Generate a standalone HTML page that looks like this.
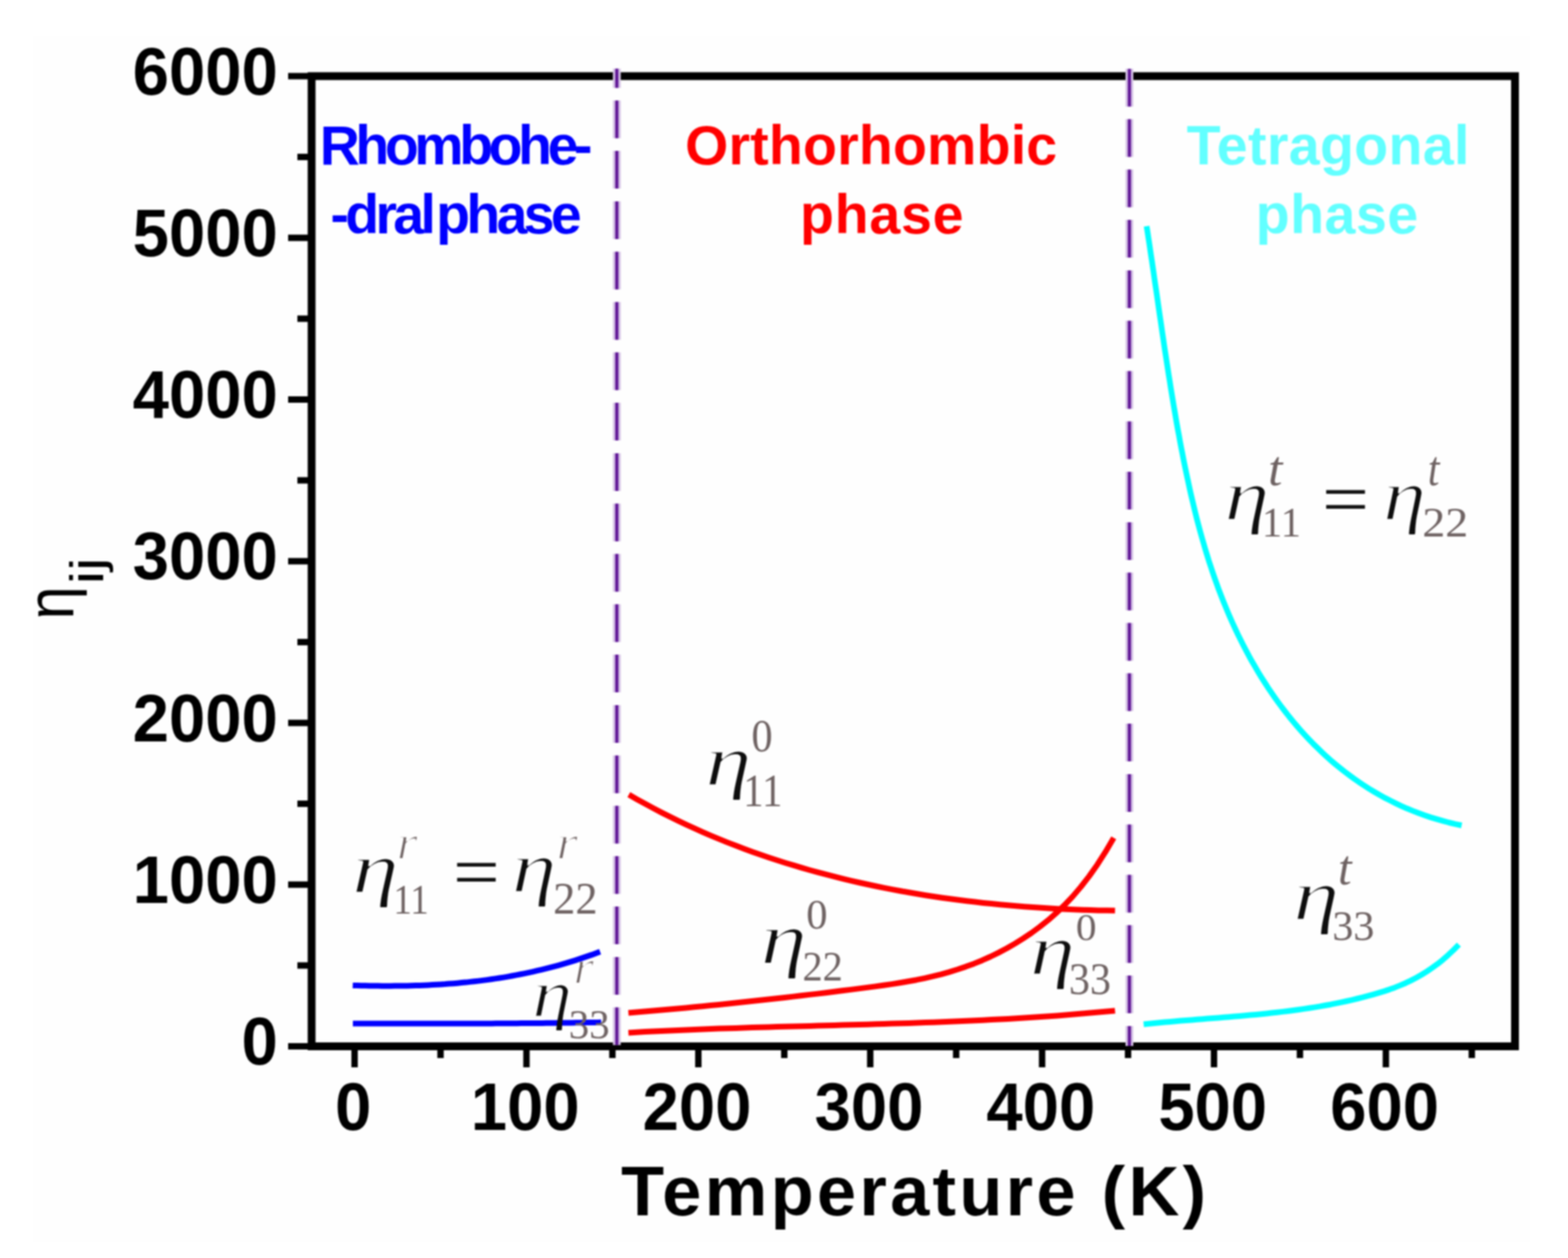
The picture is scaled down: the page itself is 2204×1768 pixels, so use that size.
<!DOCTYPE html><html><head><meta charset="utf-8"><style>html,body{margin:0;padding:0;background:#fff;overflow:hidden;}svg{display:block;filter:blur(1.1px)}</style></head><body>
<svg width="2204" height="1768" viewBox="0 0 2204 1768">
<rect x="0" y="0" width="2204" height="1768" fill="#ffffff"/>
<rect x="47" y="51" width="2103" height="1694" fill="#fefefe"/>
<defs><filter id="er20" x="-20%" y="-20%" width="140%" height="140%"><feMorphology operator="erode" radius="1.00"/></filter></defs>
<path d="M495.8,1384.9 L501.7,1385.1 L507.6,1385.2 L513.5,1385.3 L519.4,1385.5 L525.3,1385.5 L531.2,1385.6 L537.1,1385.7 L542.9,1385.7 L548.8,1385.7 L554.7,1385.6 L560.6,1385.6 L566.5,1385.5 L572.4,1385.4 L578.3,1385.3 L584.2,1385.1 L590.1,1384.9 L596.0,1384.7 L601.9,1384.4 L607.8,1384.1 L613.7,1383.8 L619.6,1383.4 L625.5,1383.1 L631.3,1382.6 L637.2,1382.2 L643.1,1381.7 L649.0,1381.1 L654.9,1380.6 L660.8,1379.9 L666.7,1379.3 L672.6,1378.6 L678.5,1377.9 L684.4,1377.1 L690.3,1376.3 L696.2,1375.4 L702.1,1374.5 L708.0,1373.6 L713.8,1372.6 L719.7,1371.5 L725.6,1370.4 L731.5,1369.3 L737.4,1368.1 L743.3,1366.9 L749.2,1365.6 L755.1,1364.2 L761.0,1362.8 L766.9,1361.4 L772.8,1359.9 L778.7,1358.4 L784.6,1356.8 L790.5,1355.1 L796.4,1353.4 L802.2,1351.6 L808.1,1349.8 L814.0,1347.9 L819.9,1345.9 L825.8,1343.9 L831.7,1341.9 L837.6,1339.7 L843.5,1337.5" fill="none" stroke="#0000ff" stroke-width="8" stroke-linecap="butt" stroke-linejoin="round"/>
<path d="M496.0,1438.6 L501.9,1438.6 L507.8,1438.6 L513.7,1438.6 L519.7,1438.6 L525.6,1438.6 L531.5,1438.6 L537.4,1438.6 L543.3,1438.6 L549.2,1438.6 L555.2,1438.6 L561.1,1438.6 L567.0,1438.6 L572.9,1438.6 L578.8,1438.6 L584.7,1438.6 L590.6,1438.6 L596.6,1438.6 L602.5,1438.6 L608.4,1438.6 L614.3,1438.6 L620.2,1438.6 L626.1,1438.6 L632.1,1438.6 L638.0,1438.6 L643.9,1438.6 L649.8,1438.5 L655.7,1438.5 L661.6,1438.5 L667.5,1438.5 L673.5,1438.5 L679.4,1438.4 L685.3,1438.4 L691.2,1438.4 L697.1,1438.3 L703.0,1438.3 L708.9,1438.3 L714.9,1438.2 L720.8,1438.2 L726.7,1438.2 L732.6,1438.1 L738.5,1438.1 L744.4,1438.0 L750.4,1438.0 L756.3,1437.9 L762.2,1437.9 L768.1,1437.8 L774.0,1437.7 L779.9,1437.7 L785.8,1437.6 L791.8,1437.5 L797.7,1437.5 L803.6,1437.4 L809.5,1437.3 L815.4,1437.2 L821.3,1437.1 L827.3,1437.1 L833.2,1437.0 L839.1,1436.9 L845.0,1436.8" fill="none" stroke="#0000ff" stroke-width="8" stroke-linecap="butt" stroke-linejoin="round"/>
<path d="M883.9,1116.8 L895.5,1123.4 L907.1,1129.8 L918.6,1136.0 L930.2,1142.1 L941.8,1147.9 L953.4,1153.6 L965.0,1159.1 L976.6,1164.4 L988.1,1169.6 L999.7,1174.6 L1011.3,1179.4 L1022.9,1184.1 L1034.5,1188.6 L1046.1,1193.0 L1057.6,1197.2 L1069.2,1201.3 L1080.8,1205.2 L1092.4,1209.0 L1104.0,1212.7 L1115.6,1216.2 L1127.1,1219.7 L1138.7,1223.0 L1150.3,1226.2 L1161.9,1229.2 L1173.5,1232.2 L1185.1,1235.1 L1196.6,1237.8 L1208.2,1240.5 L1219.8,1243.0 L1231.4,1245.5 L1243.0,1247.8 L1254.6,1250.1 L1266.1,1252.2 L1277.7,1254.3 L1289.3,1256.3 L1300.9,1258.2 L1312.5,1260.0 L1324.1,1261.7 L1335.6,1263.3 L1347.2,1264.8 L1358.8,1266.3 L1370.4,1267.6 L1382.0,1268.9 L1393.6,1270.1 L1405.1,1271.3 L1416.7,1272.3 L1428.3,1273.3 L1439.9,1274.2 L1451.5,1275.1 L1463.1,1275.8 L1474.6,1276.5 L1486.2,1277.2 L1497.8,1277.7 L1509.4,1278.2 L1521.0,1278.7 L1532.6,1279.1 L1544.1,1279.4 L1555.7,1279.6 L1567.3,1279.8" fill="none" stroke="#ff0000" stroke-width="8" stroke-linecap="butt" stroke-linejoin="round"/>
<path d="M883.3,1423.4 L894.9,1422.5 L906.4,1421.5 L918.0,1420.5 L929.6,1419.5 L941.1,1418.5 L952.7,1417.4 L964.2,1416.4 L975.8,1415.3 L987.4,1414.2 L998.9,1413.0 L1010.5,1411.9 L1022.1,1410.7 L1033.6,1409.5 L1045.2,1408.3 L1056.7,1407.1 L1068.3,1405.8 L1079.9,1404.6 L1091.4,1403.3 L1103.0,1402.0 L1114.6,1400.6 L1126.1,1399.3 L1137.7,1397.9 L1149.2,1396.6 L1160.8,1395.2 L1172.4,1393.8 L1183.9,1392.3 L1195.5,1390.9 L1207.1,1389.4 L1218.6,1387.9 L1230.2,1386.4 L1241.7,1384.8 L1253.3,1383.1 L1264.9,1381.3 L1276.4,1379.3 L1288.0,1377.2 L1299.6,1374.8 L1311.1,1372.2 L1322.7,1369.3 L1334.2,1366.1 L1345.8,1362.5 L1357.4,1358.6 L1368.9,1354.4 L1380.5,1349.7 L1392.1,1344.5 L1403.6,1338.9 L1415.2,1332.8 L1426.7,1326.1 L1438.3,1318.9 L1449.9,1311.1 L1461.4,1302.6 L1473.0,1293.4 L1484.6,1283.3 L1496.1,1272.2 L1507.7,1260.0 L1519.2,1246.5 L1530.8,1231.6 L1542.4,1215.2 L1553.9,1197.2 L1565.5,1177.4" fill="none" stroke="#ff0000" stroke-width="8" stroke-linecap="butt" stroke-linejoin="round"/>
<path d="M883.3,1451.4 L894.9,1450.7 L906.5,1450.1 L918.1,1449.5 L929.7,1449.0 L941.3,1448.4 L952.9,1447.9 L964.5,1447.4 L976.0,1446.9 L987.6,1446.5 L999.2,1446.1 L1010.8,1445.6 L1022.4,1445.3 L1034.0,1444.9 L1045.6,1444.5 L1057.2,1444.1 L1068.8,1443.8 L1080.4,1443.5 L1092.0,1443.1 L1103.6,1442.8 L1115.2,1442.5 L1126.8,1442.2 L1138.4,1441.9 L1149.9,1441.6 L1161.5,1441.3 L1173.1,1440.9 L1184.7,1440.6 L1196.3,1440.3 L1207.9,1440.0 L1219.5,1439.7 L1231.1,1439.3 L1242.7,1439.0 L1254.3,1438.6 L1265.9,1438.3 L1277.5,1437.9 L1289.1,1437.5 L1300.7,1437.1 L1312.2,1436.7 L1323.8,1436.2 L1335.4,1435.8 L1347.0,1435.3 L1358.6,1434.8 L1370.2,1434.3 L1381.8,1433.7 L1393.4,1433.1 L1405.0,1432.5 L1416.6,1431.9 L1428.2,1431.2 L1439.8,1430.5 L1451.4,1429.8 L1463.0,1429.0 L1474.6,1428.2 L1486.1,1427.4 L1497.7,1426.5 L1509.3,1425.6 L1520.9,1424.6 L1532.5,1423.6 L1544.1,1422.6 L1555.7,1421.5 L1567.3,1420.4" fill="none" stroke="#ff0000" stroke-width="8" stroke-linecap="butt" stroke-linejoin="round"/>
<path d="M1611.7,317.8 L1613.0,326.0 L1614.2,334.2 L1615.5,342.4 L1616.7,350.6 L1617.9,358.9 L1619.2,367.2 L1620.4,375.5 L1621.6,383.8 L1622.8,392.2 L1624.0,400.5 L1625.3,408.9 L1626.5,417.3 L1627.7,425.7 L1628.9,434.1 L1630.1,442.5 L1631.4,451.0 L1632.6,459.4 L1633.8,467.8 L1635.1,476.3 L1636.3,484.8 L1637.6,493.3 L1638.9,501.7 L1640.2,510.2 L1641.5,518.7 L1642.8,527.2 L1644.2,535.7 L1645.5,544.2 L1646.9,552.7 L1648.3,561.2 L1649.7,569.7 L1651.2,578.2 L1652.6,586.7 L1654.1,595.2 L1655.6,603.7 L1657.2,612.1 L1658.7,620.6 L1660.3,629.1 L1662.0,637.5 L1663.6,646.0 L1665.3,654.4 L1667.1,662.9 L1668.9,671.3 L1670.7,679.7 L1672.5,688.1 L1674.4,696.5 L1676.4,704.9 L1678.4,713.2 L1680.4,721.6 L1682.5,729.9 L1684.7,738.2 L1686.9,746.5 L1689.2,754.8 L1691.6,763.0 L1694.0,771.3 L1696.5,779.5 L1699.0,787.7 L1701.7,795.8 L1704.4,804.0 L1707.2,812.1 L1710.1,820.2 L1713.0,828.3 L1716.1,836.3 L1719.2,844.3 L1722.5,852.3 L1725.8,860.2 L1729.2,868.1 L1732.7,876.0 L1736.3,883.8 L1740.0,891.6 L1743.8,899.3 L1747.7,907.0 L1751.7,914.6 L1755.7,922.2 L1759.9,929.7 L1764.2,937.1 L1768.5,944.5 L1773.0,951.8 L1777.6,959.0 L1782.2,966.2 L1787.0,973.2 L1791.8,980.2 L1796.8,987.2 L1801.8,994.0 L1807.0,1000.7 L1812.2,1007.4 L1817.6,1014.0 L1823.0,1020.4 L1828.6,1026.8 L1834.3,1033.1 L1840.0,1039.2 L1845.9,1045.3 L1851.9,1051.2 L1858.0,1057.1 L1864.1,1062.8 L1870.4,1068.4 L1876.8,1073.9 L1883.3,1079.2 L1889.9,1084.4 L1896.7,1089.5 L1903.5,1094.5 L1910.4,1099.3 L1917.5,1104.0 L1924.6,1108.6 L1931.9,1113.0 L1939.3,1117.3 L1946.8,1121.4 L1954.4,1125.3 L1962.1,1129.1 L1969.9,1132.8 L1977.8,1136.3 L1985.9,1139.6 L1994.1,1142.8 L2002.3,1145.8 L2010.7,1148.6 L2019.2,1151.2 L2027.9,1153.7 L2036.6,1156.0 L2045.5,1158.1 L2054.5,1160.0" fill="none" stroke="#00ffff" stroke-width="8" stroke-linecap="butt" stroke-linejoin="round"/>
<path d="M1607.5,1439.6 L1615.0,1438.8 L1622.5,1438.1 L1630.0,1437.3 L1637.5,1436.6 L1645.1,1435.9 L1652.6,1435.3 L1660.1,1434.6 L1667.6,1434.0 L1675.1,1433.4 L1682.6,1432.8 L1690.1,1432.2 L1697.6,1431.6 L1705.1,1431.0 L1712.6,1430.4 L1720.2,1429.8 L1727.7,1429.2 L1735.2,1428.6 L1742.7,1427.9 L1750.2,1427.3 L1757.7,1426.6 L1765.2,1425.9 L1772.7,1425.2 L1780.2,1424.4 L1787.7,1423.6 L1795.3,1422.8 L1802.8,1421.9 L1810.3,1421.0 L1817.8,1420.0 L1825.3,1419.0 L1832.8,1417.9 L1840.3,1416.8 L1847.8,1415.6 L1855.3,1414.4 L1862.8,1413.0 L1870.4,1411.7 L1877.9,1410.2 L1885.4,1408.6 L1892.9,1407.0 L1900.4,1405.3 L1907.9,1403.5 L1915.4,1401.7 L1922.9,1399.7 L1930.4,1397.6 L1937.9,1395.4 L1945.5,1393.1 L1953.0,1390.6 L1960.5,1387.9 L1968.0,1384.9 L1975.5,1381.7 L1983.0,1378.1 L1990.5,1374.2 L1998.0,1370.0 L2005.5,1365.4 L2013.0,1360.3 L2020.6,1354.8 L2028.1,1348.8 L2035.6,1342.2 L2043.1,1335.1 L2050.6,1327.5" fill="none" stroke="#00ffff" stroke-width="8" stroke-linecap="butt" stroke-linejoin="round"/>
<rect x="438" y="107" width="1691.5" height="1363.5" fill="none" stroke="#000" stroke-width="11"/>
<line x1="405" y1="1470.5" x2="438" y2="1470.5" stroke="#000" stroke-width="9"/>
<line x1="418" y1="1356.9" x2="438" y2="1356.9" stroke="#000" stroke-width="9"/>
<line x1="405" y1="1243.2" x2="438" y2="1243.2" stroke="#000" stroke-width="9"/>
<line x1="418" y1="1129.6" x2="438" y2="1129.6" stroke="#000" stroke-width="9"/>
<line x1="405" y1="1016.0" x2="438" y2="1016.0" stroke="#000" stroke-width="9"/>
<line x1="418" y1="902.4" x2="438" y2="902.4" stroke="#000" stroke-width="9"/>
<line x1="405" y1="788.8" x2="438" y2="788.8" stroke="#000" stroke-width="9"/>
<line x1="418" y1="675.1" x2="438" y2="675.1" stroke="#000" stroke-width="9"/>
<line x1="405" y1="561.5" x2="438" y2="561.5" stroke="#000" stroke-width="9"/>
<line x1="418" y1="447.9" x2="438" y2="447.9" stroke="#000" stroke-width="9"/>
<line x1="405" y1="334.2" x2="438" y2="334.2" stroke="#000" stroke-width="9"/>
<line x1="418" y1="220.6" x2="438" y2="220.6" stroke="#000" stroke-width="9"/>
<line x1="405" y1="107.0" x2="438" y2="107.0" stroke="#000" stroke-width="9"/>
<line x1="498.4" y1="1470.5" x2="498.4" y2="1500" stroke="#000" stroke-width="9"/>
<line x1="619.2" y1="1470.5" x2="619.2" y2="1487" stroke="#000" stroke-width="9"/>
<line x1="740.0" y1="1470.5" x2="740.0" y2="1500" stroke="#000" stroke-width="9"/>
<line x1="860.8" y1="1470.5" x2="860.8" y2="1487" stroke="#000" stroke-width="9"/>
<line x1="981.6" y1="1470.5" x2="981.6" y2="1500" stroke="#000" stroke-width="9"/>
<line x1="1102.4" y1="1470.5" x2="1102.4" y2="1487" stroke="#000" stroke-width="9"/>
<line x1="1223.2" y1="1470.5" x2="1223.2" y2="1500" stroke="#000" stroke-width="9"/>
<line x1="1344.0" y1="1470.5" x2="1344.0" y2="1487" stroke="#000" stroke-width="9"/>
<line x1="1464.8" y1="1470.5" x2="1464.8" y2="1500" stroke="#000" stroke-width="9"/>
<line x1="1585.6" y1="1470.5" x2="1585.6" y2="1487" stroke="#000" stroke-width="9"/>
<line x1="1706.4" y1="1470.5" x2="1706.4" y2="1500" stroke="#000" stroke-width="9"/>
<line x1="1827.2" y1="1470.5" x2="1827.2" y2="1487" stroke="#000" stroke-width="9"/>
<line x1="1948.0" y1="1470.5" x2="1948.0" y2="1500" stroke="#000" stroke-width="9"/>
<line x1="2068.8" y1="1470.5" x2="2068.8" y2="1487" stroke="#000" stroke-width="9"/>
<line x1="867" y1="96.5" x2="867" y2="1470" stroke="#d6c4e6" stroke-width="11" stroke-dasharray="53 17.8" stroke-dashoffset="26"/>
<line x1="867" y1="96.5" x2="867" y2="1470" stroke="#601696" stroke-width="4.5" stroke-dasharray="53 17.8" stroke-dashoffset="26"/>
<line x1="1587.5" y1="96.7" x2="1587.5" y2="1470" stroke="#d6c4e6" stroke-width="11" stroke-dasharray="53 17.8" stroke-dashoffset="0"/>
<line x1="1587.5" y1="96.7" x2="1587.5" y2="1470" stroke="#601696" stroke-width="4.5" stroke-dasharray="53 17.8" stroke-dashoffset="0"/>
<text transform="translate(390.5,1496.0) scale(0.975,1)" font-family="Liberation Sans, Arial, sans-serif" font-weight="bold" font-size="94" text-anchor="end" fill="#000">0</text>
<text transform="translate(390.5,1268.8) scale(0.975,1)" font-family="Liberation Sans, Arial, sans-serif" font-weight="bold" font-size="94" text-anchor="end" fill="#000">1000</text>
<text transform="translate(390.5,1041.5) scale(0.975,1)" font-family="Liberation Sans, Arial, sans-serif" font-weight="bold" font-size="94" text-anchor="end" fill="#000">2000</text>
<text transform="translate(390.5,814.2) scale(0.975,1)" font-family="Liberation Sans, Arial, sans-serif" font-weight="bold" font-size="94" text-anchor="end" fill="#000">3000</text>
<text transform="translate(390.5,587.0) scale(0.975,1)" font-family="Liberation Sans, Arial, sans-serif" font-weight="bold" font-size="94" text-anchor="end" fill="#000">4000</text>
<text transform="translate(390.5,359.8) scale(0.975,1)" font-family="Liberation Sans, Arial, sans-serif" font-weight="bold" font-size="94" text-anchor="end" fill="#000">5000</text>
<text transform="translate(390.5,132.5) scale(0.975,1)" font-family="Liberation Sans, Arial, sans-serif" font-weight="bold" font-size="94" text-anchor="end" fill="#000">6000</text>
<text transform="translate(496.6,1587.5) scale(0.975,1)" font-family="Liberation Sans, Arial, sans-serif" font-weight="bold" font-size="94" text-anchor="middle" fill="#000">0</text>
<text transform="translate(738.2,1587.5) scale(0.975,1)" font-family="Liberation Sans, Arial, sans-serif" font-weight="bold" font-size="94" text-anchor="middle" fill="#000">100</text>
<text transform="translate(979.8,1587.5) scale(0.975,1)" font-family="Liberation Sans, Arial, sans-serif" font-weight="bold" font-size="94" text-anchor="middle" fill="#000">200</text>
<text transform="translate(1221.4,1587.5) scale(0.975,1)" font-family="Liberation Sans, Arial, sans-serif" font-weight="bold" font-size="94" text-anchor="middle" fill="#000">300</text>
<text transform="translate(1463.0,1587.5) scale(0.975,1)" font-family="Liberation Sans, Arial, sans-serif" font-weight="bold" font-size="94" text-anchor="middle" fill="#000">400</text>
<text transform="translate(1704.6,1587.5) scale(0.975,1)" font-family="Liberation Sans, Arial, sans-serif" font-weight="bold" font-size="94" text-anchor="middle" fill="#000">500</text>
<text transform="translate(1946.2,1587.5) scale(0.975,1)" font-family="Liberation Sans, Arial, sans-serif" font-weight="bold" font-size="94" text-anchor="middle" fill="#000">600</text>
<text transform="translate(449.5,230.5)" font-family="Liberation Sans, Arial, sans-serif" font-weight="bold" font-style="normal" font-size="78" letter-spacing="-6.25" fill="#0000ff">Rhombohe-</text>
<text transform="translate(464.5,327.6)" font-family="Liberation Sans, Arial, sans-serif" font-weight="bold" font-style="normal" font-size="78" letter-spacing="-5.2" word-spacing="-11" fill="#0000ff">-dral phase</text>
<text transform="translate(963.0,230.5)" font-family="Liberation Sans, Arial, sans-serif" font-weight="bold" font-style="normal" font-size="78" letter-spacing="0.273" fill="#ff0000">Orthorhombic</text>
<text transform="translate(1124.5,327.5)" font-family="Liberation Sans, Arial, sans-serif" font-weight="bold" font-style="normal" font-size="78" letter-spacing="1.125" fill="#ff0000">phase</text>
<text transform="translate(1668.0,230.5)" font-family="Liberation Sans, Arial, sans-serif" font-weight="bold" font-style="normal" font-size="78" letter-spacing="0.5" fill="#62ffff">Tetragonal</text>
<text transform="translate(1765.0,327.8)" font-family="Liberation Sans, Arial, sans-serif" font-weight="bold" font-style="normal" font-size="78" letter-spacing="0.75" fill="#62ffff">phase</text>
<text transform="translate(873.0,1707.7)" font-family="Liberation Sans, Arial, sans-serif" font-weight="bold" font-style="normal" font-size="99" letter-spacing="4.643" fill="#000">Temperature (K)</text>
<text transform="translate(494.98,1253.66) scale(1.2917,1)" font-family="Liberation Serif, Times New Roman, serif" font-weight="normal" font-style="italic" font-size="101.98" filter="url(#er20)" fill="#111">η</text>
<text transform="translate(552.88,1283.5) scale(0.8907,1)" font-family="Liberation Serif, Times New Roman, serif" font-weight="normal" font-style="normal" font-size="58.15" fill="#6e6262">11</text>
<text transform="translate(557.49,1206.5) scale(1.1317,1)" font-family="Liberation Serif, Times New Roman, serif" font-weight="normal" font-style="italic" font-size="67.33" filter="url(#er20)" fill="#6e6262">r</text>
<text transform="translate(636.75,1260.55) scale(1.0975,1)" font-family="Liberation Serif, Times New Roman, serif" font-weight="normal" font-style="normal" font-size="106.21" fill="#111">=</text>
<text transform="translate(719.41,1253.15) scale(1.2437,1)" font-family="Liberation Serif, Times New Roman, serif" font-weight="normal" font-style="italic" font-size="101.12" filter="url(#er20)" fill="#111">η</text>
<text transform="translate(777.48,1284.1) scale(0.9876,1)" font-family="Liberation Serif, Times New Roman, serif" font-weight="normal" font-style="normal" font-size="63.23" fill="#6e6262">22</text>
<text transform="translate(782.1,1206.6) scale(1.1471,1)" font-family="Liberation Serif, Times New Roman, serif" font-weight="normal" font-style="italic" font-size="68.0" filter="url(#er20)" fill="#6e6262">r</text>
<text transform="translate(748.23,1429.45) scale(1.1726,1)" font-family="Liberation Serif, Times New Roman, serif" font-weight="normal" font-style="italic" font-size="95.65" filter="url(#er20)" fill="#111">η</text>
<text transform="translate(799.53,1458.7) scale(0.9893,1)" font-family="Liberation Serif, Times New Roman, serif" font-weight="normal" font-style="normal" font-size="58.0" fill="#6e6262">33</text>
<text transform="translate(806.08,1382.0) scale(1.0977,1)" font-family="Liberation Serif, Times New Roman, serif" font-weight="normal" font-style="italic" font-size="67.78" filter="url(#er20)" fill="#6e6262">r</text>
<text transform="translate(991.53,1102.96) scale(1.28,1)" font-family="Liberation Serif, Times New Roman, serif" font-weight="normal" font-style="italic" font-size="101.98" filter="url(#er20)" fill="#111">η</text>
<text transform="translate(1044.86,1133.4) scale(0.8708,1)" font-family="Liberation Serif, Times New Roman, serif" font-weight="normal" font-style="normal" font-size="65.38" fill="#6e6262">11</text>
<text transform="translate(1056.18,1055.7) scale(0.9202,1)" font-family="Liberation Serif, Times New Roman, serif" font-weight="normal" font-style="normal" font-size="64.64" fill="#6e6262">0</text>
<text transform="translate(1069.24,1353.66) scale(1.2495,1)" font-family="Liberation Serif, Times New Roman, serif" font-weight="normal" font-style="italic" font-size="104.28" filter="url(#er20)" fill="#111">η</text>
<text transform="translate(1127.96,1378.1) scale(0.9561,1)" font-family="Liberation Serif, Times New Roman, serif" font-weight="normal" font-style="normal" font-size="59.38" fill="#6e6262">22</text>
<text transform="translate(1133.17,1304.7) scale(1.0017,1)" font-family="Liberation Serif, Times New Roman, serif" font-weight="normal" font-style="normal" font-size="59.83" fill="#6e6262">0</text>
<text transform="translate(1447.85,1369.45) scale(1.2656,1)" font-family="Liberation Serif, Times New Roman, serif" font-weight="normal" font-style="italic" font-size="100.68" filter="url(#er20)" fill="#111">η</text>
<text transform="translate(1502.44,1397.0) scale(0.9397,1)" font-family="Liberation Serif, Times New Roman, serif" font-weight="normal" font-style="normal" font-size="62.92" fill="#6e6262">33</text>
<text transform="translate(1512.13,1320.5) scale(1.1056,1)" font-family="Liberation Serif, Times New Roman, serif" font-weight="normal" font-style="normal" font-size="52.55" fill="#6e6262">0</text>
<text transform="translate(1721.17,730.13) scale(1.2408,1)" font-family="Liberation Serif, Times New Roman, serif" font-weight="normal" font-style="italic" font-size="102.12" filter="url(#er20)" fill="#111">η</text>
<text transform="translate(1773.87,754.2) scale(0.9719,1)" font-family="Liberation Serif, Times New Roman, serif" font-weight="normal" font-style="normal" font-size="58.46" fill="#6e6262">11</text>
<text transform="translate(1782.48,681.6) scale(1.0451,1)" font-family="Liberation Serif, Times New Roman, serif" font-weight="normal" font-style="italic" font-size="69.27" fill="#6e6262">t</text>
<text transform="translate(1858.22,736.54) scale(1.0994,1)" font-family="Liberation Serif, Times New Roman, serif" font-weight="normal" font-style="normal" font-size="106.62" fill="#111">=</text>
<text transform="translate(1944.3,730.13) scale(1.1824,1)" font-family="Liberation Serif, Times New Roman, serif" font-weight="normal" font-style="italic" font-size="102.12" filter="url(#er20)" fill="#111">η</text>
<text transform="translate(1999.17,754.2) scale(1.1042,1)" font-family="Liberation Serif, Times New Roman, serif" font-weight="normal" font-style="normal" font-size="58.46" fill="#6e6262">22</text>
<text transform="translate(2006.96,681.6) scale(0.8488,1)" font-family="Liberation Serif, Times New Roman, serif" font-weight="normal" font-style="italic" font-size="69.27" fill="#6e6262">t</text>
<text transform="translate(1818.05,1292.13) scale(1.2712,1)" font-family="Liberation Serif, Times New Roman, serif" font-weight="normal" font-style="italic" font-size="102.12" filter="url(#er20)" fill="#111">η</text>
<text transform="translate(1872.74,1320.8) scale(0.9975,1)" font-family="Liberation Serif, Times New Roman, serif" font-weight="normal" font-style="normal" font-size="59.38" fill="#6e6262">33</text>
<text transform="translate(1880.86,1243.4) scale(0.9984,1)" font-family="Liberation Serif, Times New Roman, serif" font-weight="normal" font-style="italic" font-size="68.91" fill="#6e6262">t</text>
<text transform="translate(103.2,870.5) rotate(-90) scale(0.9,1)" font-family="Liberation Sans, Arial, sans-serif" font-size="93" fill="#000">η</text>
<text transform="translate(145,821.3) rotate(-90) scale(1.27,1)" font-family="Liberation Sans, Arial, sans-serif" font-size="67" fill="#000">ij</text>
</svg></body></html>
